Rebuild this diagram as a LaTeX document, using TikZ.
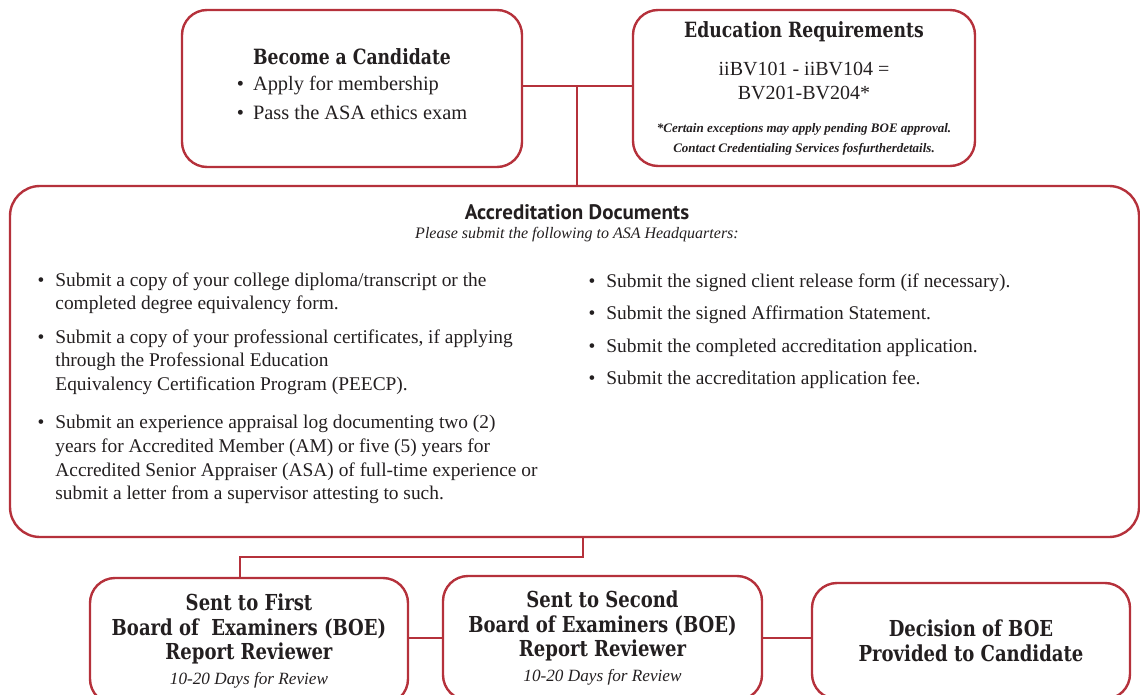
\documentclass[tikz,border=0pt]{standalone}
\usepackage{fontspec}
\setmainfont{Liberation Serif}
\newfontfamily\slabfont{DejaVu Serif}[FakeStretch=0.82]
\newfontfamily\docsans{PT Sans}
\usetikzlibrary{positioning,calc}
\definecolor{asared}{HTML}{B5313B}
\definecolor{asatext}{HTML}{231F20}
\newcommand{\bul}{\llap{\textbullet\hspace{5.5pt}}}

\tikzset{
  box/.style={draw=asared, line width=1.2pt, rounded corners=12.5pt, inner sep=0pt, align=center, text=asatext},
  link/.style={draw=asared, line width=1.2pt},
  item/.style={anchor=north west, inner sep=0pt, align=left, text=asatext, font=\fontsize{9.7}{11.8}\selectfont},
  boehead/.style={font=\slabfont\bfseries\fontsize{11}{12.3}\selectfont}
}

\begin{document}
\begin{tikzpicture}[x=0.5pt,y=-0.5pt]
   \useasboundingbox (0,0) rectangle (1140,695);

   % top row
   \node[box, minimum width=170pt, minimum height=78.5pt, font=\fontsize{10.2}{14.5}\selectfont] (cand) at (352,88.5)
     {{\slabfont\bfseries\fontsize{10.5}{12}\selectfont Become a Candidate}\\[2pt]
      \begin{tabular}{@{}l@{}}\textbullet\hspace{2pt} Apply for membership\\ \textbullet\hspace{2pt} Pass the ASA ethics exam\end{tabular}};
   \node[box, minimum width=171pt, minimum height=78pt, font=\fontsize{10}{12}\selectfont] (edu) at (804,88)
     {{\slabfont\bfseries\fontsize{10.5}{12}\selectfont Education Requirements}\\[7pt]
      iiBV101 - iiBV104 =\\ BV201-BV204*\\[4.5pt]
      {\bfseries\itshape\fontsize{6.5}{8}\selectfont *Certain exceptions may apply pending BOE approval.}\\[-2pt]
      {\bfseries\itshape\fontsize{6.5}{8}\selectfont Contact Credentialing Services fosfurtherdetails.}};

   % documents
   \node[box, rounded corners=15pt, minimum width=564.5pt, minimum height=175.5pt] (acc) at (574.5,361.5) {};
   \node[text=asatext, font=\docsans\bfseries\fontsize{10.5}{12}\selectfont] (accT) at (577,212) {Accreditation Documents};
   \node[text=asatext, font=\itshape\fontsize{8}{10}\selectfont] (accS) at (577,235) {Please submit the following to ASA Headquarters:};
   \node[item] (l1) at (55,272) {\bul Submit a copy of your college diploma/transcript or the\\ completed degree equivalency form.};
   \node[item] (l2) at (55,329) {\bul Submit a copy of your professional certificates, if applying\\ through the Professional Education\\ Equivalency Certification Program (PEECP).};
   \node[item] (l3) at (55,415) {\bul Submit an experience appraisal log documenting two (2)\\ years for Accredited Member (AM) or five (5) years for\\ Accredited Senior Appraiser (ASA) of full-time experience or\\ submit a letter from a supervisor attesting to such.};
   \node[item] (r1) at (606,273) {\bul Submit the signed client release form (if necessary).\\[4.45pt]
     \bul Submit the signed Affirmation Statement.\\[4.45pt]
     \bul Submit the completed accreditation application.\\[4.45pt]
     \bul Submit the accreditation application fee.};

   % bottom row
   \node[box, boehead, minimum width=159pt, minimum height=63pt] (first) at (249,641)
     {Sent to First\\ Board of\ \ Examiners (BOE)\\ Report Reviewer\\ {\normalfont\itshape\fontsize{8.6}{11}\selectfont 10-20 Days for Review}};
   \node[box, boehead, minimum width=159.5pt, minimum height=62pt] (second) at (602.5,638)
     {Sent to Second\\ Board of Examiners (BOE)\\ Report Reviewer\\ {\normalfont\itshape\fontsize{8.6}{11}\selectfont 10-20 Days for Review}};
   \node[box, boehead, minimum width=159pt, minimum height=58pt] (dec) at (971,641)
     {Decision of BOE\\ Provided to Candidate};

   % connectors
   \coordinate (jt) at (577,86);
   \coordinate (jb) at (583,557);
   \coordinate (jf) at (240,557);
   \draw[link] (cand.east |- jt) -- (edu.west |- jt);
   \draw[link] (jt) -- (jt |- acc.north);
   \draw[link] (jb |- acc.south) -- (jb) -- (jf) -- (jf |- first.north);
   \draw[link] (second.west -| first.east) -- (second.west);
   \draw[link] (second.east) -- (second.east -| dec.west);
\end{tikzpicture}
\end{document}
